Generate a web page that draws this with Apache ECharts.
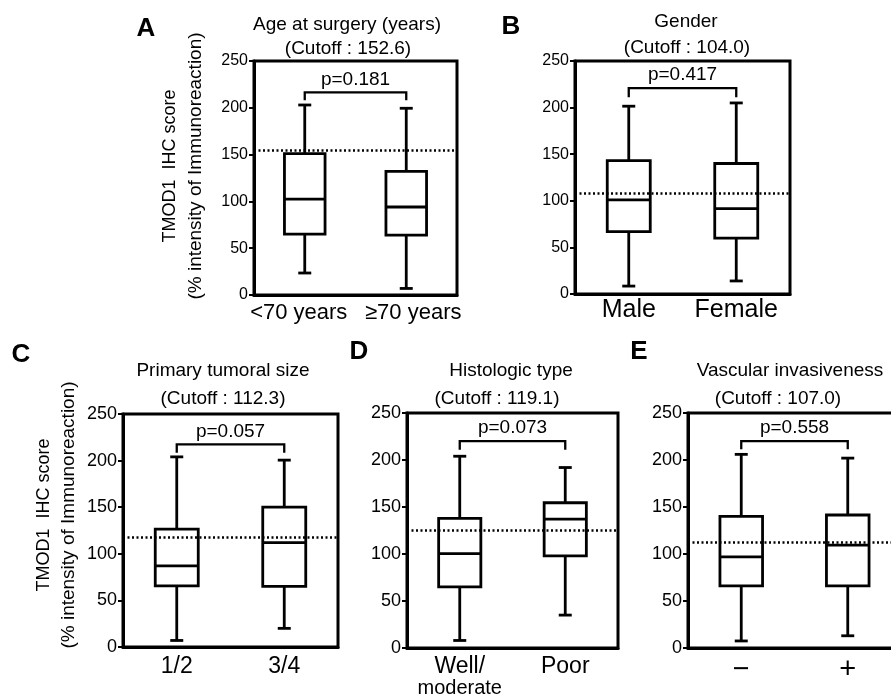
<!DOCTYPE html>
<html>
<head>
<meta charset="utf-8">
<title>TMOD1 IHC score</title>
<script src="https://cdn.jsdelivr.net/npm/echarts@6/dist/echarts.min.js"></script>
<style>
  html, body { margin: 0; padding: 0; background: #fff; }
  #chart { width: 891px; height: 698px; }
</style>
</head>
<body>
<div id="chart"></div>
<script>
// values
const panelIds = ['A', 'B', 'C', 'D', 'E'];
const panelTitles = ['Age at surgery (years)', 'Gender', 'Primary tumoral size', 'Histologic type', 'Vascular invasiveness'];
const cutoffTexts = ['(Cutoff : 152.6)', '(Cutoff : 104.0)', '(Cutoff : 112.3)', '(Cutoff : 119.1)', '(Cutoff : 107.0)'];
const categories = [
  ['<70 years', '≥70 years'],
  ['Male', 'Female'],
  ['1/2', '3/4'],
  ['Well/\nmoderate', 'Poor'],
  ['−', '+']
];
const yTicks = [0, 50, 100, 150, 200, 250];

// [min, Q1, median, Q3, max] for each group
const boxA = [[23.5, 65, 102.5, 151, 203], [7, 64, 94, 132, 199.5]];
const boxB = [[8.5, 67, 101, 143, 201.5], [14, 60, 91.5, 140, 205]];
const boxC = [[7, 65.5, 87, 126.5, 204], [20, 65, 112, 150, 200.5]];
const boxD = [[8, 65, 100.5, 138, 204], [35, 98, 137, 154.5, 192]];
const boxE = [[7.5, 66, 97, 140, 206], [13, 66, 109.5, 141.5, 202]];

const cutoffLines = [155, 108, 117.7, 125.5, 112.5];
const pValues = ['p=0.181', 'p=0.417', 'p=0.057', 'p=0.073', 'p=0.558'];
const bracketTop = [216.5, 221, 217.5, 220, 220];
const bracketEnd = [208, 211, 208.5, 211, 211.5];

const boxes = [boxA, boxB, boxC, boxD, boxE];

// layout
const FONT = '"Liberation Sans", Arial, sans-serif';
const grids = [
  { left: 254, right: 434, top: 61, bottom: 403 },
  { left: 575, right: 101, top: 61, bottom: 404 },
  { left: 123, right: 553, top: 414, bottom: 51 },
  { left: 407, right: 273, top: 413, bottom: 50 },
  { left: 688, right: -10, top: 413, bottom: 50 }
];
const letterPos = [[146, 29], [511, 27], [21, 355], [359, 352], [639, 352]];
const titlePos = [[347, 25], [686, 22], [223, 371], [511, 371], [790, 371]];
const cutoffPos = [[348, 49], [687, 48], [223, 399], [497, 399], [778, 399]];
const yNamePos = [[170, 196, 166], [44, 69, 515]];
const tickFont = [16, 16, 18, 18, 18];

function renderBox(params, api) {
  const x = api.value(0);
  const pMin = api.coord([x, api.value(1)]);
  const pQ1 = api.coord([x, api.value(2)]);
  const pMed = api.coord([x, api.value(3)]);
  const pQ3 = api.coord([x, api.value(4)]);
  const pMax = api.coord([x, api.value(5)]);
  const bw = api.size([1, 0])[0] * 0.4;
  const cw = 13;
  const cx = pMed[0];
  const st = { stroke: '#000', lineWidth: 2.8, fill: 'none' };
  return {
    type: 'group',
    children: [
      { type: 'line', shape: { x1: cx, y1: pMax[1], x2: cx, y2: pQ3[1] }, style: st },
      { type: 'line', shape: { x1: cx, y1: pQ1[1], x2: cx, y2: pMin[1] }, style: st },
      { type: 'line', shape: { x1: cx - cw / 2, y1: pMax[1], x2: cx + cw / 2, y2: pMax[1] }, style: st },
      { type: 'line', shape: { x1: cx - cw / 2, y1: pMin[1], x2: cx + cw / 2, y2: pMin[1] }, style: st },
      { type: 'rect', shape: { x: cx - bw / 2, y: pQ3[1], width: bw, height: pQ1[1] - pQ3[1] }, style: st },
      { type: 'line', shape: { x1: cx - bw / 2, y1: pMed[1], x2: cx + bw / 2, y2: pMed[1] }, style: st }
    ]
  };
}

function makeBracket(label) {
  return function (params, api) {
    const a = api.coord([api.value(0), api.value(2)]);
    const b = api.coord([api.value(1), api.value(2)]);
    const aEnd = api.coord([api.value(0), api.value(3)]);
    const bEnd = api.coord([api.value(1), api.value(3)]);
    return {
      type: 'group',
      children: [
        {
          type: 'polyline',
          shape: { points: [aEnd, a, b, bEnd] },
          style: { stroke: '#000', lineWidth: 2.3, fill: 'none' }
        },
        {
          type: 'text',
          x: (a[0] + b[0]) / 2,
          y: a[1] - 13,
          style: {
            text: label, fill: '#000', fontSize: 19, fontFamily: FONT,
            textAlign: 'center', textVerticalAlign: 'middle'
          }
        }
      ]
    };
  };
}

// x label styles differ a little between panels
const xLabels = [
  {
    fontSize: 22, margin: 7,
    formatter: (v, i) => (i === 0 ? '{l|' + v + '}' : '{r|' + v + '}'),
    rich: {
      l: { fontSize: 22, fontFamily: FONT, color: '#000', padding: [0, 12, 0, 0] },
      r: { fontSize: 22, fontFamily: FONT, color: '#000', padding: [0, 0, 0, 14] }
    }
  },
  { fontSize: 25, margin: 4 },
  { fontSize: 23, margin: 8 },
  {
    fontSize: 23, margin: 8,
    formatter: v => v.split('\n').map((s, i) => (i ? '{s|' + s + '}' : '{b|' + s + '}')).join('\n'),
    rich: {
      b: { fontSize: 23, lineHeight: 22, fontFamily: FONT, color: '#000' },
      s: { fontSize: 20, lineHeight: 20, fontFamily: FONT, color: '#000' }
    }
  },
  { fontSize: 29, margin: 7 }
];

const gridOpts = [];
const xAxes = [];
const yAxes = [];
const series = [];
const graphics = [];

panelIds.forEach((id, i) => {
  gridOpts.push(Object.assign({
    show: true, borderColor: '#000', borderWidth: 3, backgroundColor: 'transparent',
    containLabel: false, outerBoundsMode: 'none'
  }, grids[i]));

  xAxes.push({
    gridIndex: i,
    type: 'category',
    data: categories[i],
    boundaryGap: true,
    axisLine: { show: true, lineStyle: { color: '#000', width: 3 } },
    axisTick: { show: false },
    splitLine: { show: false },
    axisLabel: Object.assign({ interval: 0, color: '#000', fontFamily: FONT }, xLabels[i])
  });

  yAxes.push({
    gridIndex: i,
    type: 'value',
    min: yTicks[0],
    max: yTicks[yTicks.length - 1],
    interval: yTicks[1] - yTicks[0],
    axisLine: { show: true, lineStyle: { color: '#000', width: 3 } },
    axisTick: { show: true, length: 5, lineStyle: { color: '#000', width: 2 } },
    splitLine: { show: false },
    axisLabel: { color: '#000', fontSize: tickFont[i], fontFamily: FONT, margin: 6 }
  });

  series.push({
    type: 'custom',
    name: id,
    xAxisIndex: i,
    yAxisIndex: i,
    renderItem: renderBox,
    encode: { x: 0, y: [1, 2, 3, 4, 5] },
    data: boxes[i].map((b, k) => [k].concat(b)),
    silent: true,
    markLine: {
      silent: true,
      symbol: 'none',
      label: { show: false },
      lineStyle: { color: '#000', type: [2, 2.5], width: 2.5 },
      data: [{ yAxis: cutoffLines[i] }]
    }
  });

  series.push({
    type: 'custom',
    xAxisIndex: i,
    yAxisIndex: i,
    renderItem: makeBracket(pValues[i]),
    encode: { x: [0, 1], y: [2, 3] },
    data: [[0, 1, bracketTop[i], bracketEnd[i]]],
    silent: true
  });

  graphics.push({
    type: 'text', x: letterPos[i][0], y: letterPos[i][1],
    style: {
      text: id, fill: '#000', fontSize: 26, fontWeight: 'bold', fontFamily: FONT,
      textAlign: 'center', textVerticalAlign: 'middle'
    }
  });
  graphics.push({
    type: 'text', x: titlePos[i][0], y: titlePos[i][1],
    style: {
      text: panelTitles[i], fill: '#000', fontSize: 19, fontFamily: FONT,
      textAlign: 'center', textVerticalAlign: 'middle'
    }
  });
  graphics.push({
    type: 'text', x: cutoffPos[i][0], y: cutoffPos[i][1],
    style: {
      text: cutoffTexts[i], fill: '#000', fontSize: 19, fontFamily: FONT,
      textAlign: 'center', textVerticalAlign: 'middle'
    }
  });
});

// y-axis names only on A and C
yNamePos.forEach(p => {
  graphics.push({
    type: 'text', x: p[0], y: p[2], rotation: Math.PI / 2,
    style: {
      text: 'TMOD1  IHC score', fill: '#000', fontSize: 18, fontFamily: FONT,
      textAlign: 'center', textVerticalAlign: 'middle'
    }
  });
  graphics.push({
    type: 'text', x: p[1], y: p[2], rotation: Math.PI / 2,
    style: {
      text: '(% intensity of Immunoreaction)', fill: '#000', fontSize: 19, fontFamily: FONT,
      textAlign: 'center', textVerticalAlign: 'middle'
    }
  });
});

const chart = echarts.init(document.getElementById('chart'), null, { renderer: 'canvas' });
chart.setOption({
  backgroundColor: '#fff',
  animation: false,
  grid: gridOpts,
  xAxis: xAxes,
  yAxis: yAxes,
  series: series,
  graphic: graphics
});
</script>
</body>
</html>
